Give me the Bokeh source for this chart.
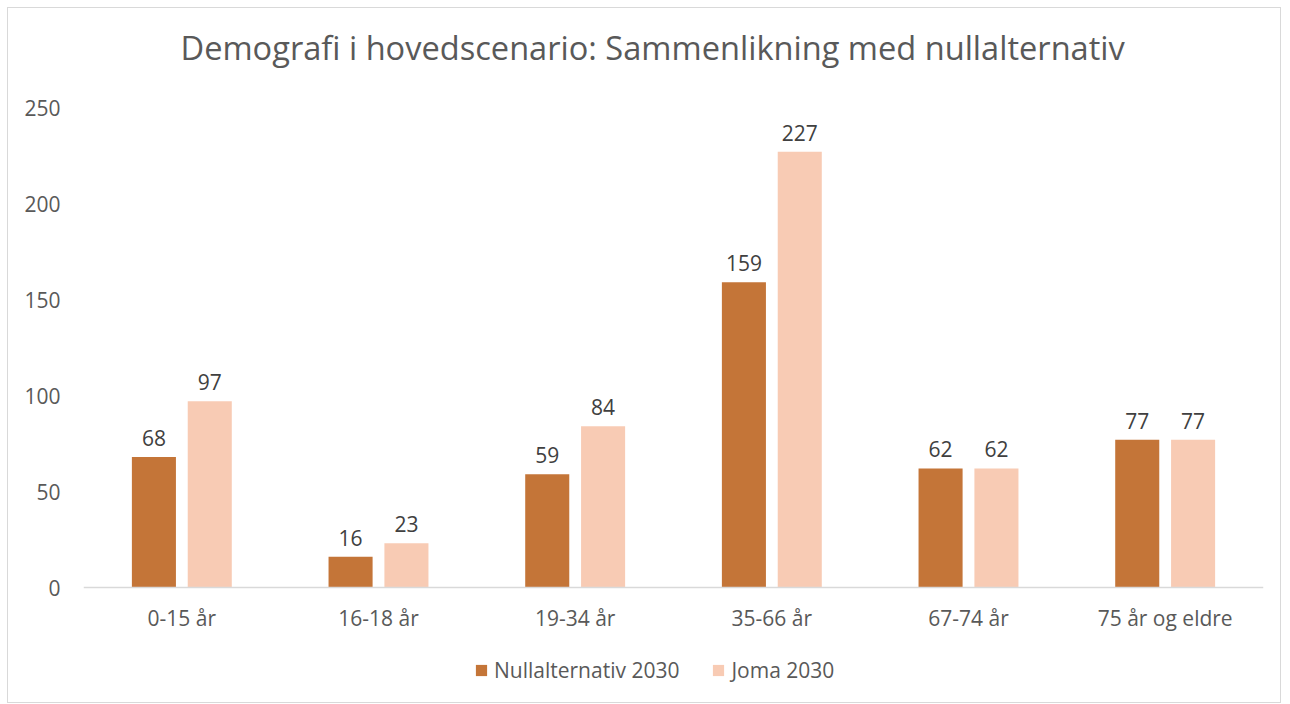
from bokeh.plotting import figure
from bokeh.models import ColumnDataSource, FactorRange, Range1d, FixedTicker, Legend, LegendItem, Span
from bokeh.transform import dodge
from bokeh.core.properties import value
from bokeh.embed import file_html
from bokeh.resources import INLINE

categories = ["0-15 år", "16-18 år", "19-34 år", "35-66 år", "67-74 år", "75 år og eldre"]
nullalternativ = [68, 16, 59, 159, 62, 77]
joma = [97, 23, 84, 227, 62, 77]
y_ticks = [0, 50, 100, 150, 200, 250]
series_names = ["Nullalternativ 2030", "Joma 2030"]

src = ColumnDataSource(dict(
    cat=categories,
    a=nullalternativ,
    b=joma,
    la=[str(v) for v in nullalternativ],
    lb=[str(v) for v in joma],
    base=[0] * len(categories),
))

FONT = "Open Sans"
C_A = "#C47538"
C_B = "#F8CBB4"
FS = "21px"

p = figure(
    x_range=FactorRange(*categories, range_padding=0),
    y_range=Range1d(-57.8, 267.2),
    width=1274, height=696,
    output_backend="svg", toolbar_location=None,
    min_border_left=75, min_border_right=19, min_border_top=66, min_border_bottom=6,
    title="Demografi i hovedscenario: Sammenlikning med nullalternativ",
)
p.styles = {"border": "1px solid #d9d9d9", "margin-left": "7px", "margin-top": "7px"}
p.outline_line_color = None
p.background_fill_color = "white"
p.border_fill_color = "white"

p.title.align = "left"
p.title.vertical_align = "bottom"
p.title.text_font = FONT
p.title.text_font_size = "32.6px"
p.title.text_font_style = "normal"
p.title.text_color = "#595959"
p.title.standoff = 10
p.title.offset = 97

w = 0.224
off = 0.142
ra = p.vbar(x=dodge("cat", -off, range=p.x_range), top="a", width=w, source=src,
            fill_color=C_A, line_color=None)
rb = p.vbar(x=dodge("cat", off, range=p.x_range), top="b", width=w, source=src,
            fill_color=C_B, line_color=None)

for col, lab, o in (("a", "la", -off), ("b", "lb", off)):
    p.text(x=dodge("cat", o, range=p.x_range), y=col, text=lab, source=src,
           text_align="center", text_baseline="alphabetic", y_offset=-19,
           text_font=value(FONT), text_font_size=FS, text_color="#404040")

# category axis (drawn at y = 0)
p.add_layout(Span(location=0, dimension="width", line_color="#d9d9d9", line_width=1.5))
p.text(x="cat", y="base", text="cat", source=src, text_align="center",
       text_baseline="middle", y_offset=30,
       text_font=value(FONT), text_font_size=FS, text_color="#595959")

p.xgrid.visible = False
p.ygrid.visible = False
p.xaxis.visible = False

p.yaxis.ticker = FixedTicker(ticks=y_ticks)
p.yaxis.axis_line_color = None
p.yaxis.major_tick_line_color = None
p.yaxis.minor_tick_line_color = None
p.yaxis.major_tick_out = 0
p.yaxis.major_tick_in = 0
p.yaxis.major_label_standoff = 23
p.yaxis.major_label_text_font = FONT
p.yaxis.major_label_text_font_size = FS
p.yaxis.major_label_text_color = "#595959"

legend = Legend(items=[LegendItem(label=series_names[0], renderers=[ra]),
                       LegendItem(label=series_names[1], renderers=[rb])],
                orientation="horizontal", location=(391, 14),
                glyph_width=14, glyph_height=14, label_standoff=6, spacing=32,
                label_text_font=FONT, label_text_font_size=FS, label_text_color="#595959",
                border_line_color=None, background_fill_alpha=0, margin=0, padding=0)
p.add_layout(legend, "center")

open("out.html", "w").write(file_html(p, INLINE))
